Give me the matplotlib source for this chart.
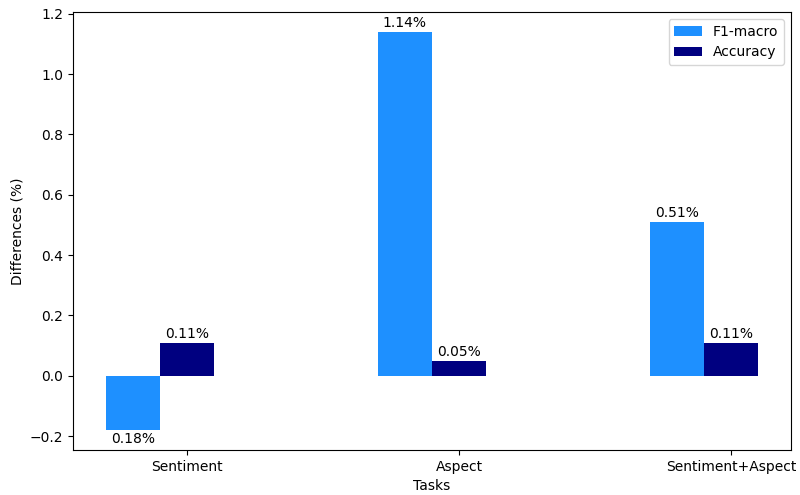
import numpy as np
import matplotlib
matplotlib.use("Agg")
import matplotlib.pyplot as plt

tasks = ["Sentiment", "Aspect", "Sentiment+Aspect"]
f1_macro = [-0.18, 1.14, 0.51]
accuracy = [0.11, 0.05, 0.11]

width = 0.2
x = np.arange(len(tasks))

fig, ax = plt.subplots(figsize=(8, 4.95), dpi=100)
fig.subplots_adjust(left=73 / 800, right=791 / 800, top=1 - 12 / 495, bottom=1 - 450 / 495)

bars_f1 = ax.bar(x - width, f1_macro, width, color="dodgerblue", label="F1-macro")
bars_acc = ax.bar(x, accuracy, width, color="navy", label="Accuracy")

# value labels: above positive bars, below negative ones (absolute value)
for bars in (bars_f1, bars_acc):
    for bar in bars:
        h = bar.get_height()
        cx = bar.get_x() + bar.get_width() / 2
        if h >= 0:
            ax.text(cx, h + 0.005, f"{abs(h):.2f}%", ha="center", va="bottom", fontsize=10)
        else:
            ax.text(cx, h - 0.005, f"{abs(h):.2f}%", ha="center", va="top", fontsize=10)

ax.set_xticks(x)
ax.set_xticklabels(tasks)
ax.set_xlabel("Tasks")
ax.set_ylabel("Differences (%)")
ax.legend(loc="upper right")

plt.savefig("out.png", dpi=100)
